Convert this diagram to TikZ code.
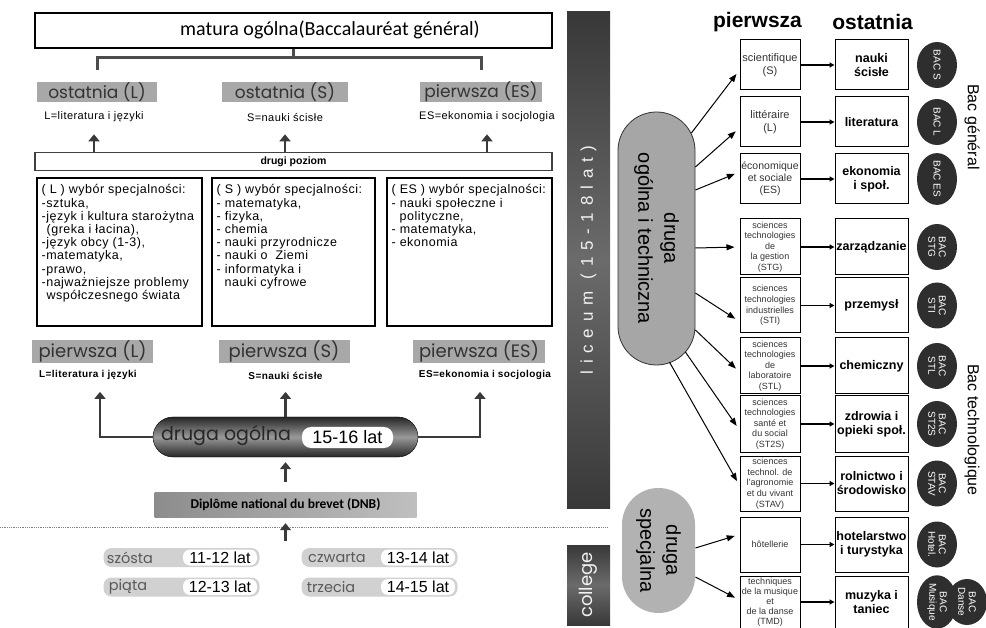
\documentclass[tikz,border=0pt]{standalone}
\usepackage{fontspec}
\setmainfont{Liberation Sans}
\newfontfamily\calib{Carlito}
\newfontfamily\goth{Poppins}
\newfontfamily\boxfont[LetterSpace=4]{Liberation Sans}
\newfontfamily\barfont[LetterSpace=40]{Liberation Sans}
\usetikzlibrary{arrows.meta,positioning,shapes.geometric}
\definecolor{hdgray}{HTML}{A8A8A8}
\definecolor{arrgray}{HTML}{3A3A3A}
\definecolor{stadgray}{HTML}{A6A6A6}
\definecolor{bacgray}{HTML}{2E2E2E}
\newcommand{\fsz}[2]{\fontsize{#1}{#2}\selectfont}
\begin{document}
\begin{tikzpicture}[x=1pt,y=-1pt,
    hd/.style={fill=hdgray,inner sep=0,minimum height=20,font=\goth\fsz{17}{17},text=black!80},
    sub/.style={inner sep=0,font=\boxfont\fsz{11}{11}},
    brk/.style={line width=3pt,draw=black!70},
    up/.style={line width=2.6pt,draw=arrgray,-{Triangle[length=7pt,width=11pt]}},
    spec/.style={draw,line width=1.1pt,minimum height=148,inner sep=0},
    lst/.style={anchor=north west,inner sep=0,align=left,font=\boxfont\fsz{12.5}{13.2}},
    bar/.style={rotate=90,minimum height=43,inner sep=0,top color=black!78,bottom color=black!78,middle color=black!58,text=black!5},
    stad/.style={fill=stadgray,draw=black!80,line width=0.8pt,inner sep=0},
    klasa/.style={fill=black!18,rounded corners=8,minimum width=156,minimum height=19,inner sep=0},
    wiekbox/.style={fill=white,rounded corners=7,minimum width=74,minimum height=16,inner sep=0,font=\fsz{16}{16}},
    fr/.style={draw,line width=1pt,minimum width=60,inner sep=0,align=center,text=black!80},
    pl/.style={draw,line width=1pt,minimum width=73,inner sep=0,align=center,font=\bfseries\fsz{12.5}{14}},
    bac/.style={ellipse,fill=bacgray,minimum width=46,minimum height=40,inner sep=0,rotate=-90,text=white,align=center,font=\fsz{10}{10.5}},
    thinarr/.style={line width=1pt,-{Triangle[length=8pt,width=6pt]},shorten >=5pt},
    mid/.style={line width=1.6pt,-{Triangle[length=5pt,width=5pt]}}]
    \useasboundingbox (0,0) rectangle (986,628);

    \node[draw,line width=1.8pt,minimum width=517,minimum height=35,inner sep=0] (matura) at (293.5,30.5) {};
    \node[font=\calib\fsz{20}{20}] (maturatxt) at (330,30) {matura ogólna(Baccalauréat général)};

    \node[hd,minimum width=120] (ostL) at (97,92) {ostatnia (L)};
    \node[hd,minimum width=126] (ostS) at (285,92) {ostatnia (S)};
    \node[hd,minimum width=122] (pieEStop) at (481,92) {pierwsza (ES)};
    \draw[brk] (matura.south) -- ++(0,9) coordinate (brk);
    \draw[brk] ([yshift=12]ostL.north) -- (ostL.north |- brk) -- (pieEStop.north |- brk) -- ([yshift=12]pieEStop.north);

    \node[sub] (ostLsub) at (94,117) {L=literatura i języki};
    \node[sub] (ostSsub) at (285,118) {S=nauki ścisłe};
    \node[sub] (ostESsub) at (487,117) {ES=ekonomia i socjologia};

    \node[draw=black!75,line width=1.3pt,minimum width=517,minimum height=18,inner sep=0,font=\bfseries\fsz{10.5}{10.5}] (poziom) at (293.5,161.5) {drugi poziom};
    \foreach \n in {ostLsub,ostSsub,ostESsub}
        \draw[up] (poziom.north -| \n) -- ([yshift=-12]\n.south);

    \node[spec,minimum width=165] (boxL) at (119.5,252) {};
    \node[spec,minimum width=163] (boxS) at (293.5,252) {};
    \node[spec,minimum width=165] (boxES) at (469.5,252) {};
    \node[lst] (lstL) at ([shift={(5,7)}]boxL.north west) {( L ) wybór specjalności:\\-sztuka,\\-język i kultura starożytna\\\hspace*{5pt}(greka i łacina),\\-język obcy (1-3),\\-matematyka,\\-prawo,\\-najważniejsze problemy\\\hspace*{5pt}współczesnego świata};
    \node[lst] (lstS) at ([shift={(5,7)}]boxS.north west) {( S ) wybór specjalności:\\- matematyka,\\- fizyka,\\- chemia\\- nauki przyrodnicze\\- nauki o\ \ Ziemi\\- informatyka i\\\hspace*{8pt}nauki cyfrowe};
    \node[lst] (lstES) at ([shift={(5,7)}]boxES.north west) {( ES ) wybór specjalności:\\- nauki społeczne i\\\hspace*{8pt}polityczne,\\- matematyka,\\- ekonomia};

    \node[hd,minimum width=121,minimum height=23,font=\goth\fsz{18}{18}] (pieL) at (92.5,351.5) {pierwsza (L)};
    \node[hd,minimum width=131,minimum height=23,font=\goth\fsz{18}{18}] (pieS) at (284,351.5) {pierwsza (S)};
    \node[hd,minimum width=132,minimum height=23,font=\goth\fsz{18}{18}] (pieES) at (479,351.5) {pierwsza (ES)};
    \node[sub,font=\boxfont\bfseries\fsz{10}{10}] (pieLsub) at (88,375) {L=literatura i języki};
    \node[sub,font=\boxfont\bfseries\fsz{10}{10}] (pieSsub) at (285.5,376) {S=nauki ścisłe};
    \node[sub,font=\boxfont\bfseries\fsz{10}{10}] (pieESsub) at (485,375) {ES=ekonomia i socjologia};

    \node[minimum width=265,minimum height=40,rounded corners=20,draw=black,top color=black!85,bottom color=black!85,middle color=black!40,inner sep=0] (ogolna) at (285.5,437) {};
    \node[font=\goth\fsz{19}{19},text=black!85] (ogolnatxt) at (226,436) {druga ogólna};
    \node[wiekbox,minimum width=91,minimum height=21,rounded corners=9,font=\fsz{18}{18}] (wiek) at (347.5,437.5) {15-16 lat};
    \draw[up] (ogolna.west) -| ([xshift=12,yshift=-12]pieLsub.south);
    \draw[up] (ogolna.north) -- ([yshift=-12]pieSsub.south);
    \draw[up] (ogolna.east) -| ([xshift=-5,yshift=-12]pieESsub.south);

    \node[left color=black!45,right color=black!25,minimum width=262,minimum height=25,inner sep=0,font=\calib\bfseries\fsz{13.5}{13.5}] (dnb) at (285.5,504.5) {Diplôme national du brevet (DNB)};
    \draw[up] ([yshift=10]dnb.north) -- ([yshift=-5]ogolna.south);
    \draw[densely dotted,gray,line width=0.8pt] (0,527) -- (608,527);
    \coordinate (gimn) at (285.5,541);
    \draw[up] (gimn) -- ([yshift=-6]dnb.south);

    \foreach \px/\py/\lx/\kl/\wk [count=\i] in {181.5/557.5/130/szósta/11-12 lat, 379.5/557.5/337/czwarta/13-14 lat, 181.5/587/128/piąta/12-13 lat, 379.5/587/331/trzecia/14-15 lat} {
        \node[klasa] (k\i) at (\px,\py) {};
        \node[font=\goth\fsz{14.5}{14.5},text=black!65] (kt\i) at (\lx,\py) {\kl};
        \node[wiekbox] (kw\i) at (\px+38.5,\py) {\wk};
    }

    \node[bar,minimum width=497,font=\barfont\fsz{17}{17}] (liceum) at (588.5,260) {liceum\hspace{12pt}(15-18lat)};
    \node[bar,minimum width=80,font=\goth\fsz{18}{18}] (college) at (588.5,585) {college};

    \node[stad,minimum width=77,minimum height=253,rounded corners=38.5] (ogtech) at (656.5,238.5) {};
    \node[rotate=-90,align=center,inner sep=0,font=\fsz{20}{26}] (ogtechtxt) at (ogtech) {druga\\ogólna i techniczna};
    \node[stad,draw=none,fill=black!30,minimum width=73,minimum height=125,rounded corners=36.5] (specj) at (658.5,550.5) {};
    \node[rotate=-90,align=center,inner sep=0,font=\fsz{20}{26}] (specjtxt) at (specj) {druga\\specjalna};

    \node[font=\bfseries\fsz{21}{21}] (hpierwsza) at (757.5,22) {pierwsza};
    \node[font=\bfseries\fsz{21}{21}] (hostatnia) at (872.5,22) {ostatnia};

    \node[bac] (bacDanse) at (967,602) {BAC\\Danse};
    \foreach \y/\h/\fz/\fb/\fr/\pl/\bc [count=\i] in {
        65/50/11/12.5/{scientifique\\(S)}/{nauki\\ścisłe}/{BAC S},
        122/50/11/12.5/{littéraire\\(L)}/{literatura}/{BAC L},
        179/50/10.5/12/{économique\\et sociale\\(ES)}/{ekonomia\\i społ.}/{BAC ES},
        247/56/9/10.6/{sciences\\technologies\\de\\la gestion\\(STG)}/{zarządzanie}/{BAC\\STG},
        305.5/55/9/10.6/{sciences\\technologies\\industrielles\\(STI)}/{przemysł}/{BAC\\STI},
        366/56/9/10.6/{sciences\\technologies\\de\\laboratoire\\(STL)}/{chemiczny}/{BAC\\STL},
        424/56/9/10.6/{sciences\\technologies\\santé et\\du social\\(ST2S)}/{zdrowia i\\opieki społ.}/{BAC\\ST2S},
        483.5/55/9/10.6/{sciences\\technol. de\\l'agronomie\\et du vivant\\(STAV)}/{rolnictwo i\\środowisko}/{BAC\\STAV},
        544.5/55/9/10.6/{hôtellerie}/{hotelarstwo\\i turystyka}/{BAC\\Hotel.},
        602/52/9/10/{techniques\\de la musique\\et\\de la danse\\(TMD)}/{muzyka i\\taniec}/{BAC\\Musique}} {
        \node[fr,minimum height=\h,font=\fsz{\fz}{\fb}] (fr\i) at (770,\y) {\fr};
        \node[pl,minimum height=\h] (pl\i) at (871.5,\y) {\pl};
        \node[bac] (bac\i) at (937,\y) {\bc};
        \draw[mid] (fr\i) -- (pl\i);
    }

    \foreach \sx/\sy/\ey [count=\i] in {-4/-105.5/5, 0/-71.5/6, 0/-48.5/-7, 0/9.5/0, 0/54.5/16, 0/91.5/6, -10/113.5/6, -26/123.5/2}
        \draw[thinarr] ([shift={(\sx,\sy)}]ogtech.east) -- ([shift={(0,\ey)}]fr\i.west);
    \draw[thinarr] ([shift={(0,-2.5)}]specj.east) -- ([shift={(0,-10)}]fr9.west);
    \draw[thinarr] ([shift={(0,26.5)}]specj.east) -- ([shift={(0,-2)}]fr10.west);

    \node[rotate=-90,font=\fsz{16}{16}] (bacgen) at (972,127) {Bac général};
    \node[rotate=-90,font=\fsz{16}{16}] (bactech) at (972,430) {Bac technologique};
\end{tikzpicture}
\end{document}
